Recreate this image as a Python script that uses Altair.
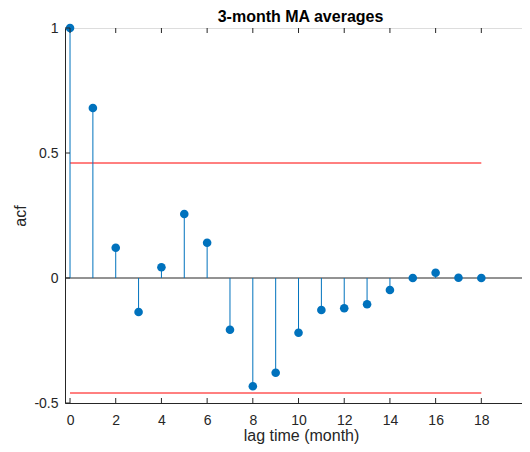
import altair as alt
import pandas as pd

lags = list(range(19))
acf = [1.0, 0.68, 0.121, -0.136, 0.043, 0.256, 0.141, -0.207, -0.433, -0.379,
       -0.219, -0.128, -0.121, -0.105, -0.048, 0.0, 0.021, 0.001, 0.0]
bound = 0.46
bound_x = [0, 18]
x_ticks = list(range(0, 21, 2))
y_ticks = [-0.5, 0, 0.5, 1]

BLUE = "#0072BD"
AX = "#262626"
FONT = "Liberation Sans"

df = pd.DataFrame({"lag": lags, "acf": acf})
bounds = pd.DataFrame({"x": [bound_x[0]] * 2, "x2": [bound_x[1]] * 2, "y": [bound, -bound]})
xt = pd.DataFrame({"t": x_ticks})
yt = pd.DataFrame({"t": y_ticks})

W, H = 457, 375
xs = alt.Scale(domain=[-0.22, 19.78], nice=False, zero=False)
ys = alt.Scale(domain=[-0.5, 1], nice=False, zero=False)

xaxis = alt.Axis(values=x_ticks, grid=False, ticks=False, labelFont=FONT, labelFontSize=14,
                 labelColor=AX, domainColor=AX, title="lag time (month)", titleFont=FONT,
                 titleFontSize=16, titleFontWeight="normal", titleColor=AX,
                 titleX=236, titleY=37, titleBaseline="alphabetic", titleAnchor="middle",
                 labelPadding=21, labelBaseline="alphabetic", labelFlush=False)
yaxis = alt.Axis(values=y_ticks, grid=False, ticks=False, labelFont=FONT, labelFontSize=14,
                 labelColor=AX, domainColor=AX, title="acf", titleFont=FONT,
                 titleFontSize=16, titleFontWeight="normal", titleColor=AX,
                 titleX=-40, titleY=H / 2, titleBaseline="alphabetic", titleAngle=270,
                 labelPadding=7, labelExpr="datum.value + ''", labelFlush=False)

zero = alt.Chart(df).mark_rule(color=AX, strokeWidth=1).encode(
    y=alt.datum(0)
).transform_filter("datum.lag == 0")

red = alt.Chart(bounds).mark_rule(color="#FF0000", strokeWidth=1).encode(
    x=alt.X("x:Q", scale=xs, axis=xaxis), x2="x2:Q", y=alt.Y("y:Q", scale=ys, axis=yaxis)
)

stems = alt.Chart(df).mark_rule(color=BLUE, strokeWidth=1).encode(
    x=alt.X("lag:Q", scale=xs, axis=xaxis), y=alt.Y("acf:Q", scale=ys, axis=yaxis), y2=alt.datum(0)
)

pts = alt.Chart(df).mark_circle(color=BLUE, size=74, opacity=1).encode(
    x=alt.X("lag:Q", scale=xs, axis=xaxis), y=alt.Y("acf:Q", scale=ys, axis=yaxis)
)

bt = alt.Chart(xt).mark_rule(color=AX, strokeWidth=1).encode(
    x=alt.X("t:Q", scale=xs, axis=xaxis), y=alt.value(H), y2=alt.value(H - 5)
)
tt = alt.Chart(xt).mark_rule(color=AX, strokeWidth=1).encode(
    x=alt.X("t:Q", scale=xs, axis=xaxis), y=alt.value(0), y2=alt.value(5)
)
lt = alt.Chart(yt).mark_rule(color=AX, strokeWidth=1).encode(
    y=alt.Y("t:Q", scale=ys, axis=yaxis), x=alt.value(0), x2=alt.value(5)
)

chart = alt.layer(red, zero, stems, pts, bt, tt, lt).properties(
    width=W, height=H,
    title=alt.Title("3-month MA averages", font=FONT, fontSize=16, fontWeight="bold",
                    color="#000000", offset=-4, anchor="middle", dx=7),
    autosize=alt.AutoSizeParams(type="none"),
    padding={"left": 57, "top": 20, "right": 0, "bottom": 41},
).configure_view(stroke=AX, strokeWidth=1).configure(background="white")

chart.save("out.html", embed_options={"renderer": "svg", "actions": False})
